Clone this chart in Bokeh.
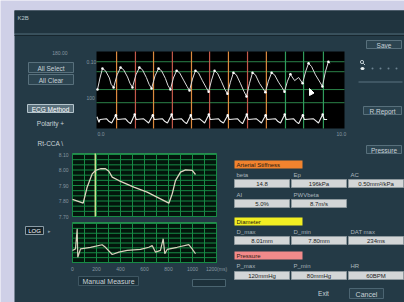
import numpy as np
from bokeh.plotting import figure
from bokeh.models import Range1d
from bokeh.core.properties import value
from bokeh.embed import file_html
from bokeh.resources import INLINE

# ---------------- data ----------------
# 10 s trend: pressure trace (s, mmHg)
press_t = [0.04, 0.14, 0.24, 0.36, 0.52, 0.59,
           0.69, 0.83, 0.97, 1.09, 1.25, 1.35,
           1.45, 1.59, 1.73, 1.85, 2.01, 2.12,
           2.22, 2.36, 2.50, 2.62, 2.78, 2.88,
           2.98, 3.10, 3.23, 3.35, 3.51, 3.65,
           3.75, 3.87, 3.99, 4.11, 4.27, 4.42,
           4.52, 4.64, 4.76, 4.88, 5.04, 5.18,
           5.28, 5.40, 5.52, 5.64, 5.80, 5.95,
           6.05, 6.17, 6.29, 6.41, 6.57, 6.71,
           6.81, 6.93, 7.06, 7.18, 7.34, 7.48,
           7.58, 7.70, 7.82, 7.99, 8.15,
           8.31, 8.43, 8.55, 8.67, 8.83, 9.01,
           9.11, 9.23, 9.35, 9.42]
press_p = [78, 100, 118, 114, 100, 88,
           82, 106, 120, 116, 102, 90,
           82, 106, 120, 116, 101, 88,
           80, 104, 118, 114, 99, 86,
           78, 100, 114, 110, 96, 84,
           76, 98, 114, 110, 95, 82,
           74, 96, 114, 109, 93, 78,
           70, 92, 110, 106, 90, 74,
           65, 90, 110, 106, 90, 80,
           73, 94, 110, 106, 92, 82,
           74, 94, 107, 95, 101,
           90, 112, 128, 122, 106, 92,
           84, 112, 131, 128]
foot_t = [0.04, 0.69, 1.45, 2.22, 2.98, 3.75, 4.52, 5.28, 6.05, 6.81, 7.58, 8.31, 9.11]
foot_p = [78, 82, 82, 80, 78, 76, 74, 70, 65, 73, 74, 90, 84]
peak_t = [0.24, 0.97, 1.73, 2.50, 3.23, 3.99, 4.76, 5.52, 6.29, 7.06, 7.82, 8.55, 9.35]
peak_p = [118, 120, 120, 118, 114, 114, 114, 110, 110, 110, 107, 128, 131]
press_levels = [131, 112, 78]

# ECG trace (s, mV)
ecg_t = [0.02, 0.10, 0.14,
         0.41, 0.51, 0.61, 0.78, 0.84,
         1.17, 1.27, 1.37, 1.54, 1.60,
         1.90, 2.00, 2.10, 2.27, 2.33,
         2.66, 2.76, 2.86, 3.03, 3.09,
         3.43, 3.53, 3.63, 3.80, 3.86,
         4.16, 4.26, 4.36, 4.53, 4.59,
         4.92, 5.02, 5.12, 5.29, 5.35,
         5.69, 5.79, 5.89, 6.06, 6.12,
         6.45, 6.55, 6.65, 6.82, 6.88,
         7.22, 7.32, 7.42, 7.59, 7.65,
         7.95, 8.05, 8.15, 8.32, 8.38,
         8.75, 8.85, 8.95, 9.12, 9.18,
         9.30]
ecg_v = [0.4, -0.4, 0.0,
         0.1, -0.3, -0.5, 0.6, 0.0,
         0.1, -0.3, -0.6, 0.7, 0.0,
         0.1, -0.2, -0.5, 0.6, 0.0,
         0.1, -0.3, -0.5, 0.7, 0.0,
         0.1, -0.3, -0.6, 0.6, 0.0,
         0.1, -0.2, -0.5, 0.7, 0.0,
         0.1, -0.3, -0.5, 0.6, 0.0,
         0.1, -0.3, -0.6, 0.7, 0.0,
         0.1, -0.2, -0.5, 0.6, 0.0,
         0.1, -0.3, -0.5, 0.7, 0.0,
         0.1, -0.3, -0.6, 0.6, 0.0,
         0.1, -0.2, -0.5, 0.7, 0.0,
         0.0]
ecg_r_t = [0.78, 1.54, 2.27, 3.03, 3.80, 4.53, 5.29, 6.06, 6.82, 7.59, 8.32, 9.12]
ecg_r_v = [0.6, 0.7, 0.6, 0.7, 0.6, 0.7, 0.6, 0.7, 0.6, 0.7, 0.6, 0.7]
ecg_levels = [2.4]

# detected beats (s) and whether each is selected
beat_t = [0.81, 1.57, 2.30, 3.06, 3.83, 4.56, 5.32, 6.09, 6.85, 7.62, 8.35, 9.15]
beat_selected = [1, 1, 1, 1, 1, 1, 1, 1, 1, 0, 0, 0]

# ensemble-averaged diameter waveform (ms, mm)
avg_ms = [0, 89, 122, 164, 192, 233, 275, 303, 331, 386, 511, 622, 733, 803,
          831, 858, 900, 942, 998, 1025]
avg_mm = [7.81, 7.786, 7.889, 7.975, 7.997, 8.008, 8.008, 7.992, 7.954, 7.932,
          7.889, 7.857, 7.814, 7.786, 7.846, 7.932, 7.986, 8.001, 7.997, 7.971]
# averaged ECG (ms, mV)
avg_ecg_ms = [0, 25, 39, 44, 67, 150, 247, 275, 331, 386, 456, 567, 636, 664,
              692, 733, 756, 769, 789, 872, 969, 997, 1025]
avg_ecg_mv = [-0.38, -0.30, 0.73, -0.73, -0.30, -0.22, -0.09, -0.22, -0.59, -0.47,
              -0.38, -0.33, -0.22, -0.13, -0.47, -0.38, 0.22, -0.55, -0.33, -0.22,
              -0.08, -0.30, -0.55]
dat_cursor_ms = 190
avg_x_ticks = [0, 200, 400, 600, 800, 1000, 1200]
avg_x_labels = ["0", "200", "400", "600", "800", "1000", "1200(ms)"]
avg_y_ticks = [8.10, 8.00, 7.90, 7.80, 7.70]
avg_y_labels = ["8.10", "8.00", "7.90", "7.80", "7.70"]

# results table
stiff_labels = ["beta", "Ep", "AC"]
stiff_values = ["14.8", "196kPa", "0.50mm²/kPa"]
stiff2_labels = ["AI", "PWVbeta"]
stiff2_values = ["5.0%", "8.7m/s"]
diam_labels = ["D_max", "D_min", "DAT max"]
diam_values = ["8.01mm", "7.80mm", "234ms"]
pres_labels = ["P_max", "P_min", "HR"]
pres_values = ["120mmHg", "80mmHg", "60BPM"]

# ---------------- figure ----------------
W, H = 404, 302
FX0, FX1, FY0, FY1 = 0, W, 0, H

p = figure(width=W, height=H, output_backend="svg", toolbar_location=None,
           x_range=Range1d(FX0, FX1), y_range=Range1d(FY1, FY0),
           x_axis_type=None, y_axis_type=None, min_border=0)
p.outline_line_color = None
p.grid.visible = False
p.background_fill_color = "#cfd0e7"
p.border_fill_color = "#cfd0e7"


def xr(d0, d1, p0, p1):
    f = lambda px: d0 + (px - p0) * (d1 - d0) / (p1 - p0)
    return Range1d(start=f(FX0), end=f(FX1))


def yr(d0, d1, p0, p1):
    f = lambda py: d0 + (py - p0) * (d1 - d0) / (p1 - p0)
    return Range1d(start=f(FY1), end=f(FY0))


p.extra_x_ranges = {"trend": xr(0, 10, 96, 344), "avg": xr(0, 1200, 72, 216)}
p.extra_y_ranges = {"press": yr(80, 120, 88, 67), "ecg": yr(0, 1, 119, 112),
                    "diam": yr(7.70, 8.10, 216, 154), "avgecg": yr(-1, 1, 262, 223)}

FONT = value("Liberation Sans")
PANEL = "#243a46"
TXT = "#c9d2d8"


def box(l, r, t, b, fill, line=None, lw=1):
    p.quad(left=[l], right=[r], top=[t], bottom=[b], fill_color=fill,
           line_color=line, line_width=lw)


def label(x, y, txt, size="6.5px", color=TXT, align="left", style="normal"):
    p.text(x=[x], y=[y], text=[txt], text_font=FONT, text_font_size=size,
           text_color=color, text_align=align, text_baseline="middle",
           text_font_style=style)


def button(l, r, t, b, txt, size="6.5px", fill="#2c4450", line="#58707c", color=TXT):
    box(l, r, t, b, fill, line)
    label((l + r) / 2, (t + b) / 2 + 0.5, txt, size=size, color=color, align="center")


# main panel
box(14, 404, 10, 302, PANEL)
box(14, 404, 10, 33, "#20343f")
p.segment(x0=[14], x1=[404], y0=[33.5], y1=[33.5], line_color="#4e6874", line_width=1)
p.segment(x0=[14], x1=[404], y0=[35], y1=[35], line_color="#17262e", line_width=1)
label(17, 17, "K2B", size="6px", color="#b8c4cc")

# ---- top trend plot ----
box(96, 344, 51, 128, "#000000")
p.segment(x0=[96] * len(press_levels), x1=[344] * len(press_levels),
          y0=press_levels, y1=press_levels, y_range_name="press",
          line_color="#2a8048", line_width=1)
p.segment(x0=[96] * len(ecg_levels), x1=[344] * len(ecg_levels),
          y0=ecg_levels, y1=ecg_levels, y_range_name="ecg",
          line_color="#2a8048", line_width=1)
sel_cols = ["#dc8a3e", "#c4584a"]
beat_cols = [sel_cols[i % 2] if s else "#2f9c5c" for i, s in enumerate(beat_selected)]
p.segment(x0=beat_t, x1=beat_t, y0=[51] * len(beat_t), y1=[128] * len(beat_t),
          x_range_name="trend", line_color=beat_cols, line_width=1.2)
p.line(press_t, press_p, x_range_name="trend", y_range_name="press",
       line_color="#dcdcdc", line_width=1)
p.scatter(foot_t + peak_t, foot_p + peak_p, x_range_name="trend", y_range_name="press",
          size=2.5, fill_color="#ffffff", line_color=None)
p.line(ecg_t, ecg_v, x_range_name="trend", y_range_name="ecg",
       line_color="#f0f0f0", line_width=1.1)
p.scatter(ecg_r_t, ecg_r_v, x_range_name="trend", y_range_name="ecg",
          size=2.5, fill_color="#ffffff", line_color=None)
# mouse pointer
p.patch([309, 309, 313.5], [88, 95, 92.5], fill_color="#ffffff", line_color="#ffffff")

label(67, 52, "180.00", size="5px", color="#8696a0", align="right")
label(86, 61, "0.10", size="5px", color="#8696a0")
label(86, 97, "100", size="5px", color="#8696a0")
label(97, 133, "0.0", size="5px", color="#8696a0")
label(336, 133, "10.0", size="5px", color="#8696a0")

# left controls
button(28, 73, 62, 72, "All Select")
button(28, 73, 74, 84, "All Clear")
button(27, 73, 104, 112, "ECG Method", fill="#5a707c", line="#b4c4cc", color="#ffffff")
label(50, 123, "Polarity +", align="center")
label(50, 143, "Rt-CCA \\", align="center")
button(25, 43, 226, 234, "LOG", size="6px", fill="#15242c", line="#8a9ca6", color="#ffffff")
label(47, 230, "▸", size="5px", color="#8a9aa4")

# right controls
button(366, 401, 40, 48, "Save")
p.circle(x=[361.5], y=[61.5], radius=1.6, fill_color=None, line_color="#c0ccd2", line_width=1)
p.segment(x0=[362.7], x1=[364.5], y0=[62.7], y1=[64.5], line_color="#c0ccd2", line_width=1)
p.ellipse(x=[362], y=[68], width=4, height=3, fill_color="#e8eef0", line_color=None)
p.scatter([372, 380, 388, 396], [68, 68, 68, 68], size=2, fill_color="#6c8290", line_color=None)
p.segment(x0=[358], x1=[402], y0=[81.5], y1=[81.5], line_color="#5a7380", line_width=1)
button(363, 401, 106, 114, "R.Report", size="6.5px")
button(366, 401, 145, 153, "Pressure", size="6.5px")

# ---- averaged waveform plots ----
grid_ms = np.arange(0, 1201, 100)
for (top, bot, yname, levels) in [(153, 216, "diam", np.arange(7.70, 8.101, 0.1 / 3)),
                                   (222, 262, "avgecg", np.arange(-1.0, 1.01, 0.25))]:
    box(72, 216, top, bot, "#03160c", "#2a8c50")
    p.segment(x0=[0] * len(levels), x1=[1200] * len(levels), y0=levels, y1=levels,
              x_range_name="avg", y_range_name=yname, line_color="#178a45", line_width=1)
    p.segment(x0=grid_ms, x1=grid_ms, y0=[top] * len(grid_ms), y1=[bot] * len(grid_ms),
              x_range_name="avg", line_color="#178a45", line_width=1)

p.segment(x0=[dat_cursor_ms], x1=[dat_cursor_ms], y0=[153], y1=[216], x_range_name="avg",
          line_color="#c8e08c", line_width=1.5)
p.line(avg_ms, avg_mm, x_range_name="avg", y_range_name="diam",
       line_color="#ddd6c0", line_width=1.3)
p.line(avg_ecg_ms, avg_ecg_mv, x_range_name="avg", y_range_name="avgecg",
       line_color="#d8d2bc", line_width=1.2)
p.text(x=[68] * len(avg_y_ticks), y=avg_y_ticks, text=avg_y_labels, y_range_name="diam",
       text_font=FONT, text_font_size="5px", text_color="#8696a0",
       text_align="right", text_baseline="middle")
p.text(x=avg_x_ticks, y=[268] * len(avg_x_ticks), text=avg_x_labels, x_range_name="avg",
       text_font=FONT, text_font_size="5px", text_color="#8696a0",
       text_align="center", text_baseline="middle")

button(78, 138, 276, 285, "Manual Measure", size="7px", fill="#1d313b", line="#3e5662")
box(192, 225, 279, 286, "#1d313b", "#4a6470")

# ---- results table ----
cols = [(234, 289), (291, 346), (348, 403)]


def header(t, b, txt, fill):
    box(234, 302, t, b, fill)
    label(236, (t + b) / 2 + 0.5, txt, size="6px", color="#2a1a10")


def row(lbl_y, labels, box_t, vals):
    for (l, r), lb, v in zip(cols, labels, vals):
        label(l + 2, lbl_y, lb, size="6px", color="#a9b6bd")
        box(l, r, box_t, box_t + 8, "#d3d6d7", "#8e999e")
        label((l + r) / 2, box_t + 4.5, v, size="6px", color="#1c1c1c", align="center")


header(160, 168, "Arterial Stiffness", "#f2832e")
row(174, stiff_labels, 179, stiff_values)
row(194, stiff2_labels, 199, stiff2_values)
header(217, 225, "Diameter", "#f2ee22")
row(231, diam_labels, 236, diam_values)
header(251, 259, "Pressure", "#f28a8a")
row(265, pres_labels, 271, pres_values)

label(323, 293, "Exit", size="6.5px", align="center")
button(349, 383, 288, 298, "Cancel", size="7px", fill="#2a414d", line="#4c6572")

open("out.html", "w").write(file_html(p, INLINE))
